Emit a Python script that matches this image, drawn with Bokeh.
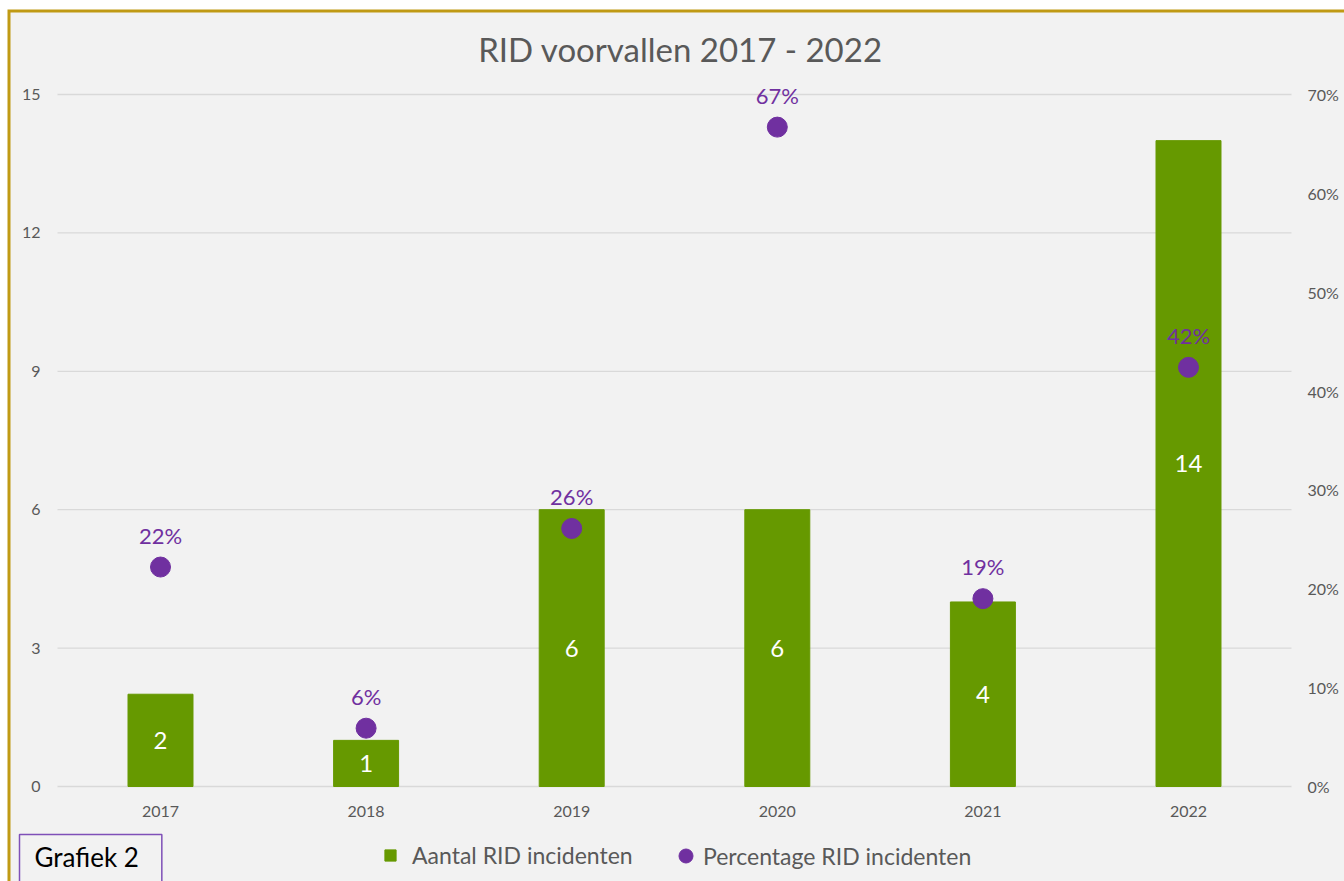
from bokeh.plotting import figure
from bokeh.models import (Range1d, LinearAxis, FixedTicker, Legend, LegendItem, Label,
                          ColumnDataSource, PrintfTickFormatter, LabelSet, BoxAnnotation)
from bokeh.embed import file_html
from bokeh.resources import INLINE
from bokeh.core.properties import value

# ---- data ----
years = ["2017", "2018", "2019", "2020", "2021", "2022"]
counts = [2, 1, 6, 6, 4, 14]
pct = [22.2, 5.9, 26.1, 66.7, 19.0, 42.4]
pct_labels = ["22%", "6%", "26%", "67%", "19%", "42%"]
count_labels = ["2", "1", "6", "6", "4", "14"]
left_ticks = [0, 3, 6, 9, 12, 15]
right_ticks = [0, 10, 20, 30, 40, 50, 60, 70]

# ---- style / layout constants ----
FONT = "Lato"
GREEN = "#669900"
PURPLE = "#7030A0"
GREY = "#595959"
BG = "#F2F2F2"
GOLD = "#C09A14"
W, H = 1344, 881
X0, XSTEP = 160.0, 205.6          # pixel centre of first category, category spacing
Y0, Y15 = 786.0, 94.0             # pixel rows of 0 and 15

def xd(px):
    return (px - X0) / XSTEP

def yd(py):
    return (Y0 - py) * 15.0 / (Y0 - Y15)

def pd(py):
    return (Y0 - py) * 70.0 / (Y0 - Y15)

xs = list(range(len(years)))
src = ColumnDataSource(dict(x=xs, count=counts, mid=[c / 2 for c in counts],
                            clab=count_labels, pct=pct, plab=pct_labels))

p = figure(x_range=Range1d(xd(0), xd(W)), y_range=Range1d(yd(H), yd(0)),
           width=W, height=H, output_backend="svg", toolbar_location=None, title=None,
           min_border=0, min_border_left=0, min_border_right=0,
           min_border_top=0, min_border_bottom=0)
p.extra_y_ranges = {"pct": Range1d(pd(H), pd(0))}
p.background_fill_color = "white"
p.border_fill_color = "white"
p.outline_line_color = None

# gold frame + grey chart area
p.add_layout(BoxAnnotation(left=xd(7), bottom=yd(H + 20), top=yd(9), right=xd(W + 20),
                           fill_color=GOLD, fill_alpha=1, line_color=None, level="underlay"))
p.add_layout(BoxAnnotation(left=xd(10), bottom=yd(H + 20), top=yd(12), right=xd(W + 20),
                           fill_color=BG, fill_alpha=1, line_color=None, level="underlay"))

# gridlines at the left-axis ticks
p.segment(x0=xd(57), x1=xd(1291), y0=left_ticks, y1=left_ticks,
          line_color="#D9D9D9", line_width=1.3)

bars = p.vbar(x="x", top="count", width=0.316, color=GREEN, source=src)
dots = p.scatter(x="x", y="pct", y_range_name="pct", size=20, color=PURPLE, source=src)

p.add_layout(LabelSet(x="x", y="mid", text="clab", source=src, text_align="center",
                      text_baseline="middle", text_color="white", text_font=value(FONT),
                      text_font_size="24px"))
p.add_layout(LabelSet(x="x", y="pct", y_range_name="pct", text="plab", source=src,
                      text_align="center", text_baseline="middle", y_offset=32,
                      text_color=PURPLE, text_font=value(FONT), text_font_size="22px"))

# axes (drawn inside the canvas at fixed locations)
ax_x = p.xaxis[0]
ax_x.ticker = FixedTicker(ticks=xs)
ax_x.major_label_overrides = {i: y for i, y in enumerate(years)}
ax_x.fixed_location = 0
ax_x.major_label_standoff = 13

ax_l = p.yaxis[0]
ax_l.ticker = FixedTicker(ticks=left_ticks)
ax_l.fixed_location = xd(57)
ax_l.major_label_standoff = 11

ax_r = LinearAxis(y_range_name="pct", ticker=FixedTicker(ticks=right_ticks),
                  formatter=PrintfTickFormatter(format="%d%%"), fixed_location=xd(1291))
ax_r.major_label_standoff = 10
p.add_layout(ax_r, "right")

for ax in [ax_x, ax_l, ax_r]:
    ax.axis_line_color = None
    ax.major_tick_line_color = None
    ax.minor_tick_line_color = None
    ax.major_label_text_font = FONT
    ax.major_label_text_font_size = "16px"
    ax.major_label_text_color = GREY

p.xgrid.visible = False
p.ygrid.visible = False

# title
p.add_layout(Label(x=xd(680), y=yd(48), text="RID voorvallen 2017 - 2022",
                   text_align="center", text_baseline="middle", text_font=FONT,
                   text_font_size="33px", text_color=GREY))

# legends
leg1 = Legend(items=[LegendItem(label="Aantal RID incidenten", renderers=[bars])],
              location=(383, 12), orientation="horizontal",
              label_text_font=FONT, label_text_font_size="23px", label_text_color=GREY,
              glyph_width=14, glyph_height=14, label_standoff=15, padding=0, margin=0,
              background_fill_alpha=0, border_line_color=None)
leg2 = Legend(items=[LegendItem(label="Percentage RID incidenten", renderers=[dots])],
              location=(668, 8), orientation="horizontal",
              label_text_font=FONT, label_text_font_size="23px", label_text_color=GREY,
              glyph_width=35, glyph_height=35, label_standoff=0, padding=0, margin=0,
              background_fill_alpha=0, border_line_color=None)
p.add_layout(leg1)
p.add_layout(leg2)

# "Grafiek 2" box
p.add_layout(Label(x=xd(19), y=yd(863), text="Grafiek 2", text_align="left",
                   text_baseline="middle", text_font=FONT, text_font_size="26px",
                   text_color="black", border_line_color="#7F50B8", border_line_width=1.5,
                   background_fill_color=BG, padding=(15, 23, 6, 20)))

open("out.html", "w").write(file_html(p, INLINE))
